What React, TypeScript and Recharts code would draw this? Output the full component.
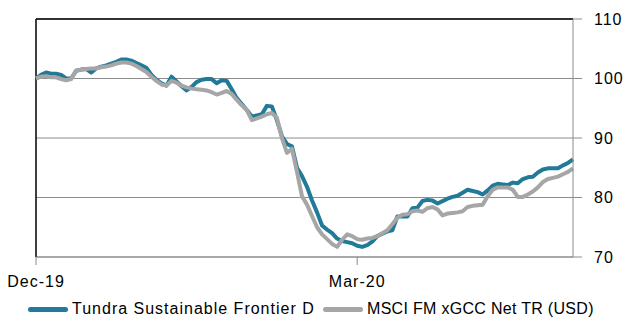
import React from "react";
import {
  LineChart, Line, XAxis, YAxis, CartesianGrid, ReferenceLine, Legend,
} from "recharts";

// trading-day index, 0 = end of Dec-19
const TUNDRA = [
  100.0, 100.6, 101.0, 100.8, 100.8, 100.6, 100.0, 100.0, 101.3, 101.5,
  101.6, 101.0, 101.7, 102.0, 102.2, 102.5, 102.8, 103.2, 103.2, 103.0,
  102.6, 102.2, 101.8, 100.6, 99.8, 99.2, 98.8, 100.3, 99.5, 98.7,
  98.0, 98.6, 99.4, 99.8, 99.9, 99.9, 99.2, 99.7, 99.6, 98.2,
  96.7, 95.7, 94.7, 93.6, 93.8, 94.0, 95.4, 95.3, 93.0, 90.3,
  89.0, 88.6, 85.0, 83.6, 81.8, 79.5, 77.5, 75.3, 74.6, 74.0,
  73.1, 72.7, 72.5, 72.3, 71.9, 71.7, 72.0, 72.6, 73.5, 73.9,
  74.3, 74.5, 76.8, 76.8, 76.8, 78.2, 78.3, 79.4, 79.6, 79.5,
  79.0, 79.4, 79.8, 80.1, 80.3, 80.8, 81.3, 81.1, 80.9, 80.5,
  81.2, 82.0, 82.3, 82.2, 82.1, 82.5, 82.4, 83.1, 83.4, 83.5,
  84.2, 84.7, 84.9, 84.9, 84.9, 85.4, 85.8, 86.4,
];

const MSCI = [
  100.0, 100.3, 100.4, 100.2, 100.2, 99.9, 99.7, 99.9, 101.3, 101.5,
  101.6, 101.7, 101.7, 101.9, 102.0, 102.2, 102.5, 102.7, 102.7, 102.5,
  102.1, 101.6, 101.1, 100.3, 99.6, 99.0, 98.8, 99.6, 99.3, 98.8,
  98.5, 98.3, 98.2, 98.1, 98.0, 97.7, 97.3, 97.6, 97.9, 97.4,
  96.4, 95.5, 94.7, 93.0, 93.3, 93.6, 94.0, 94.2, 93.4, 90.0,
  87.5, 88.2, 84.3, 80.2, 78.8, 76.9, 75.0, 73.8, 73.0, 72.2,
  71.7, 72.9, 73.8, 73.5, 73.0, 72.9, 73.1, 73.2, 73.5, 74.0,
  74.5, 75.5, 76.6, 77.1, 77.2, 77.7, 77.8, 77.6, 78.2, 78.4,
  78.0, 77.0, 77.3, 77.4, 77.5, 77.7, 78.4, 78.6, 78.7, 78.8,
  80.2, 81.3, 81.7, 81.7, 81.7, 81.3, 80.1, 80.1, 80.5, 81.0,
  81.7, 82.6, 83.1, 83.3, 83.5, 83.9, 84.3, 84.9,
];

const X_TICKS = [0, 64];
const X_LABELS = ["Dec-19", "Mar-20"];
const Y_TICKS = [70, 80, 90, 100, 110];

const SERIES = [
  { key: "tundra", name: "Tundra Sustainable Frontier D", color: "#217a98" },
  { key: "msci", name: "MSCI FM xGCC Net TR (USD)", color: "#a6a6a6" },
];

const data = TUNDRA.map((v, i) => ({ i, tundra: v, msci: MSCI[i] }));

const FONT = "'Liberation Sans', Arial, sans-serif";
const LEGEND_X = [28, 323];
const LEGEND_SPACING = [1, 0.3];

function LegendBox() {
  return (
    <div style={{ position: "relative", height: 20, fontFamily: FONT, fontSize: 16, color: "#000" }}>
      {SERIES.map((s, k) => (
        <div
          key={s.key}
          style={{ position: "absolute", left: LEGEND_X[k], top: 0, display: "flex", alignItems: "center", whiteSpace: "nowrap", letterSpacing: LEGEND_SPACING[k] }}
        >
          <span style={{ display: "inline-block", width: 40, height: 5, borderRadius: 3, background: s.color, marginRight: 4 }} />
          <span>{s.name}</span>
        </div>
      ))}
    </div>
  );
}

export default function App() {
  return (
    <div style={{ position: "absolute", left: 0, top: 0, background: "#fff" }}>
      <style>{`.recharts-cartesian-axis-tick-value { letter-spacing: 1px; }`}</style>
      <LineChart width={638} height={319} data={data} margin={{ top: 19, right: 0, left: 36, bottom: 0 }}>
        <CartesianGrid horizontal vertical={false} stroke="#8c8c8c" />
        <XAxis
          dataKey="i"
          type="number"
          domain={[0, TUNDRA.length - 1]}
          ticks={X_TICKS}
          tickFormatter={(v) => X_LABELS[X_TICKS.indexOf(v)]}
          height={62}
          stroke="#8c8c8c"
          tickSize={8}
          tickMargin={11}
          tick={{ fill: "#000", fontSize: 16, fontFamily: FONT }}
        />
        <YAxis
          orientation="right"
          domain={[70, 110]}
          ticks={Y_TICKS}
          width={65}
          stroke="#8c8c8c"
          tickSize={9}
          tickMargin={12}
          tick={{ fill: "#000", fontSize: 16, fontFamily: FONT }}
        />
        <ReferenceLine y={110} stroke="#000" strokeWidth={1.5} />
        <ReferenceLine x={0} stroke="#000" strokeWidth={1.5} />
        {SERIES.map((s) => (
          <Line
            key={s.key}
            dataKey={s.key}
            name={s.name}
            stroke={s.color}
            strokeWidth={4}
            dot={false}
            strokeLinejoin="round"
            isAnimationActive={false}
          />
        ))}
        <Legend
          layout="horizontal"
          verticalAlign="middle"
          wrapperStyle={{ top: 300, left: 0, width: 638 }}
          content={() => <LegendBox />}
        />
      </LineChart>
    </div>
  );
}
